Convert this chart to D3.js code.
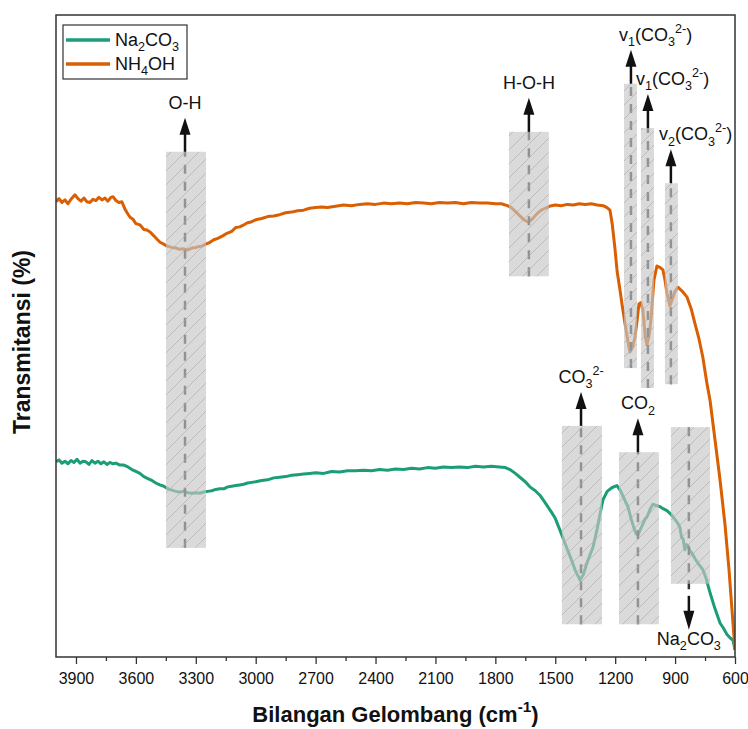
<!DOCTYPE html>
<html>
<head>
<meta charset="utf-8">
<script src="https://cdn.jsdelivr.net/npm/d3@7"></script>
<style>
  body { margin: 0; background: #fff; }
  svg { font-family: "Liberation Sans", Arial, sans-serif; }
</style>
</head>
<body>
<svg width="748" height="729"></svg>
<script>
// x axis ticks (cm-1)
var xTicks = [3900, 3600, 3300, 3000, 2700, 2400, 2100, 1800, 1500, 1200, 900, 600];
var xMinor = [3750, 3450, 3150, 2850, 2550, 2250, 1950, 1650, 1350, 1050, 750];

// [wavenumber, transmittance]
var na2co3 = [
  [4000, 30.4], [3985, 30.7], [3970, 30.2], [3955, 30.5], [3940, 30.1], [3925, 30.6], [3910, 30.3],
  [3895, 30.8], [3880, 30.2], [3865, 30.5], [3850, 30.4], [3835, 30.0], [3820, 30.6], [3805, 30.2],
  [3790, 30.5], [3775, 30.1], [3760, 30.4], [3745, 30.0], [3730, 30.3], [3715, 30.1], [3700, 30.2],
  [3680, 29.9], [3660, 29.9], [3640, 29.6], [3620, 29.2], [3600, 28.9], [3580, 28.6], [3560, 28.1],
  [3540, 27.8], [3520, 27.5], [3500, 27.1], [3480, 26.8], [3460, 26.6], [3440, 26.2], [3420, 26.0],
  [3400, 25.8], [3380, 25.7], [3360, 25.8], [3340, 25.6], [3320, 25.5], [3300, 25.6], [3280, 25.5],
  [3260, 25.7], [3240, 25.8], [3220, 25.9], [3200, 26.1], [3180, 26.2], [3160, 26.2], [3140, 26.5],
  [3120, 26.6], [3100, 26.7], [3080, 26.8], [3060, 26.9], [3040, 27.1], [3020, 27.2], [3000, 27.3],
  [2970, 27.5], [2940, 27.6], [2910, 27.9], [2880, 28.0], [2850, 28.1], [2820, 28.3], [2790, 28.4],
  [2760, 28.5], [2730, 28.6], [2700, 28.7], [2660, 28.6], [2620, 28.9], [2580, 28.8], [2540, 29.0],
  [2500, 29.0], [2460, 29.1], [2420, 29.0], [2380, 29.2], [2340, 29.1], [2300, 29.3], [2260, 29.2],
  [2220, 29.4], [2180, 29.3], [2140, 29.5], [2100, 29.4], [2060, 29.6], [2020, 29.5], [1980, 29.6],
  [1940, 29.5], [1900, 29.7], [1860, 29.6], [1820, 29.7], [1780, 29.6], [1750, 29.5], [1727, 29.2],
  [1700, 28.6], [1677, 28.0], [1650, 27.3], [1627, 26.5], [1600, 25.9], [1577, 25.2], [1550, 24.0],
  [1520, 22.6], [1500, 21.6], [1477, 19.8], [1450, 17.6], [1420, 15.2], [1400, 13.5], [1376, 12.0],
  [1360, 12.8], [1345, 14.3], [1330, 15.6], [1311, 17.1], [1290, 20.0], [1275, 22.4], [1261, 24.5],
  [1240, 25.8], [1215, 26.4], [1191, 26.7], [1175, 26.0], [1160, 25.0], [1150, 24.3], [1136, 23.4],
  [1120, 21.5], [1105, 20.0], [1095, 19.2], [1086, 19.0], [1075, 19.8], [1060, 20.8], [1050, 21.5],
  [1041, 21.8], [1025, 23.0], [1011, 23.8], [995, 23.6], [975, 23.4], [960, 23.1], [941, 22.8],
  [920, 22.2], [900, 21.4], [886, 20.8], [876, 20.2], [868, 18.7], [860, 18.4], [851, 16.7],
  [843, 17.5], [835, 17.3], [825, 16.5], [816, 16.2], [800, 15.3], [780, 14.4], [761, 13.6],
  [745, 12.3], [725, 10.0], [700, 7.5], [675, 5.3], [660, 4.6], [640, 3.5], [625, 3.0], [610, 2.6],
  [600, 1.1]
];

var nh4oh = [
  [4000, 70.9], [3985, 71.4], [3970, 70.8], [3955, 71.2], [3940, 70.6], [3925, 71.3], [3905, 72.0],
  [3890, 71.4], [3875, 71.0], [3860, 71.5], [3845, 70.9], [3830, 70.8], [3815, 71.3], [3800, 71.1],
  [3785, 71.6], [3770, 71.2], [3755, 71.5], [3740, 71.0], [3725, 71.6], [3715, 71.7], [3700, 71.1],
  [3685, 70.8], [3670, 70.9], [3655, 69.8], [3640, 69.0], [3629, 68.5], [3615, 68.2], [3600, 67.5],
  [3579, 67.3], [3560, 66.6], [3545, 66.5], [3529, 66.2], [3510, 65.6], [3495, 65.1], [3479, 64.6],
  [3460, 64.3], [3444, 64.0], [3420, 63.8], [3400, 63.7], [3380, 63.5], [3364, 63.6], [3340, 63.4],
  [3320, 63.7], [3300, 63.8], [3289, 63.9], [3270, 64.0], [3250, 64.3], [3229, 64.6], [3210, 65.0],
  [3190, 65.2], [3165, 65.6], [3144, 66.0], [3120, 66.3], [3100, 66.9], [3080, 67.0], [3060, 67.3],
  [3044, 67.6], [3020, 67.8], [3000, 68.1], [2970, 68.3], [2940, 68.6], [2910, 68.7], [2880, 68.9],
  [2850, 69.2], [2820, 69.3], [2790, 69.5], [2760, 69.6], [2730, 69.9], [2700, 70.0], [2670, 70.1],
  [2640, 70.0], [2600, 70.2], [2560, 70.4], [2520, 70.3], [2480, 70.5], [2440, 70.6], [2400, 70.5],
  [2360, 70.7], [2320, 70.6], [2280, 70.7], [2240, 70.6], [2200, 70.8], [2160, 70.7], [2120, 70.6],
  [2080, 70.8], [2040, 70.7], [2000, 70.8], [1960, 70.6], [1920, 70.8], [1880, 70.7], [1840, 70.7],
  [1800, 70.6], [1770, 70.6], [1740, 70.3], [1720, 70.0], [1700, 69.4], [1680, 68.8], [1660, 68.2],
  [1640, 67.8], [1625, 67.9], [1610, 68.4], [1590, 69.1], [1570, 69.6], [1550, 69.9], [1530, 70.2],
  [1500, 70.4], [1470, 70.3], [1440, 70.5], [1410, 70.4], [1380, 70.6], [1350, 70.5], [1320, 70.6],
  [1290, 70.4], [1260, 70.3], [1241, 70.0], [1226, 69.6], [1215, 67.5], [1201, 63.6], [1190, 60.0],
  [1176, 57.2], [1165, 54.8], [1151, 52.0], [1138, 49.5], [1126, 47.5], [1113, 48.3], [1101, 49.8],
  [1090, 52.5], [1081, 55.0], [1071, 55.2], [1061, 54.0], [1050, 50.0], [1041, 48.6], [1031, 50.0],
  [1021, 52.5], [1006, 58.7], [991, 60.9], [976, 60.7], [961, 60.3], [951, 58.8], [941, 56.7],
  [926, 54.7], [913, 55.8], [901, 56.9], [886, 57.6], [865, 57.0], [841, 56.1], [820, 54.3],
  [801, 52.0], [780, 49.5], [761, 46.7], [740, 42.5], [725, 40.0], [700, 33.8], [675, 27.6],
  [650, 20.6], [630, 13.6], [615, 7.3], [600, 1.1]
];

var seriesNames = [[["Na"], ["2", "sub"], ["CO"], ["3", "sub"]], [["NH"], ["4", "sub"], ["OH"]]];
var seriesColors = ["#1b9e77", "#d95f02"];

// shaded bands: wavenumber range, marker line, transmittance range, label
var bands = [
  { lo: 3249, hi: 3449, at: 3354, top: 78.7, bottom: 17.0, dir: "up", label: [["O-H"]] },
  { lo: 1532, hi: 1732, at: 1632, top: 81.8, bottom: 59.3, dir: "up", label: [["H-O-H"]] },
  { lo: 1091, hi: 1156, at: 1121, top: 89.3, bottom: 45.0, dir: "up",
    label: [["v"], ["1", "sub"], ["(CO"], ["3", "sub"], ["2-", "sup"], [")"]] },
  { lo: 1006, hi: 1071, at: 1036, top: 82.4, bottom: 41.9, dir: "up",
    label: [["v"], ["1", "sub"], ["(CO"], ["3", "sub"], ["2-", "sup"], [")"]] },
  { lo: 886, hi: 951, at: 921, top: 73.8, bottom: 42.5, dir: "up",
    label: [["v"], ["2", "sub"], ["(CO"], ["3", "sub"], ["2-", "sup"], [")"]] },
  { lo: 1266, hi: 1467, at: 1371, top: 36.0, bottom: 5.1, dir: "up",
    label: [["CO"], ["3", "sub"], ["2-", "sup"]] },
  { lo: 981, hi: 1181, at: 1086, top: 31.9, bottom: 5.1, dir: "up",
    label: [["CO"], ["2", "sub"]] },
  { lo: 725, hi: 921, at: 831, top: 35.8, bottom: 11.4, dir: "down",
    label: [["Na"], ["2", "sub"], ["CO"], ["3", "sub"]] }
];

var margin = { top: 15, right: 13, bottom: 72, left: 56 };
var width = 748 - margin.left - margin.right;
var height = 729 - margin.top - margin.bottom;

var svg = d3.select("svg");
var defs = svg.append("defs");
defs.append("clipPath").attr("id", "plotClip")
  .append("rect").attr("width", width).attr("height", height);

var hatch = defs.append("pattern")
  .attr("id", "hatch")
  .attr("patternUnits", "userSpaceOnUse")
  .attr("width", 14).attr("height", 14);
hatch.append("path")
  .attr("d", "M0,14 L14,0 M-3,3 L3,-3 M11,17 L17,11")
  .attr("stroke", "#a8a8a8")
  .attr("stroke-width", 0.6);

var g = svg.append("g")
  .attr("transform", "translate(" + margin.left + "," + margin.top + ")");

var x = d3.scaleLinear().domain([4000, 600]).range([0, width]);
var y = d3.scaleLinear().domain([0, 100]).range([height, 0]);

function rich(text, parts, size) {
  var shift = 0;
  parts.forEach(function (p) {
    var target = p[1] === "sub" ? size * 0.3 : p[1] === "sup" ? -size * 0.45 : 0;
    text.append("tspan")
      .attr("dy", target - shift)
      .attr("font-size", p[1] ? size * 0.7 : size)
      .text(p[0]);
    shift = target;
  });
}

var plot = g.append("g").attr("clip-path", "url(#plotClip)");

var line = d3.line()
  .x(function (d) { return x(d[0]); })
  .y(function (d) { return y(d[1]); });

plot.selectAll(".series")
  .data([na2co3, nh4oh])
  .enter()
  .append("path")
  .attr("class", "series")
  .attr("fill", "none")
  .attr("stroke", function (d, i) { return seriesColors[i]; })
  .attr("stroke-width", 3)
  .attr("stroke-linejoin", "round")
  .attr("d", line);

// dashed marker lines, under the shading
plot.selectAll(".marker")
  .data(bands)
  .enter()
  .append("line")
  .attr("class", "marker")
  .attr("x1", function (d) { return x(d.at); })
  .attr("x2", function (d) { return x(d.at); })
  .attr("y1", function (d) { return d.dir === "up" ? y(d.bottom) : y(d.top); })
  .attr("y2", function (d) { return d.dir === "up" ? y(d.top) : y(d.bottom) + 12; })
  .attr("stroke", "#333")
  .attr("stroke-width", 2.5)
  .attr("stroke-dasharray", "9,8");

var shade = plot.selectAll(".band")
  .data(bands)
  .enter()
  .append("g")
  .attr("class", "band");
shade.append("rect")
  .attr("x", function (d) { return x(d.hi); })
  .attr("y", function (d) { return y(d.top); })
  .attr("width", function (d) { return x(d.lo) - x(d.hi); })
  .attr("height", function (d) { return y(d.bottom) - y(d.top); })
  .attr("fill", "#c6c6c6")
  .attr("fill-opacity", 0.65);
shade.append("rect")
  .attr("x", function (d) { return x(d.hi); })
  .attr("y", function (d) { return y(d.top); })
  .attr("width", function (d) { return x(d.lo) - x(d.hi); })
  .attr("height", function (d) { return y(d.bottom) - y(d.top); })
  .attr("fill", "url(#hatch)");

// arrows and labels
var ann = plot.selectAll(".ann")
  .data(bands)
  .enter()
  .append("g")
  .attr("class", "ann")
  .attr("transform", function (d) { return "translate(" + x(d.at) + ",0)"; });

ann.append("line")
  .attr("y1", function (d) { return d.dir === "up" ? y(d.top) : y(d.bottom) + 12; })
  .attr("y2", function (d) { return d.dir === "up" ? y(d.top) - 18 : y(d.bottom) + 28; })
  .attr("stroke", "#111")
  .attr("stroke-width", 2.5);

ann.append("path")
  .attr("fill", "#111")
  .attr("d", function (d) {
    if (d.dir === "up") {
      var t = y(d.top) - 34;
      return "M0," + t + "L-5.5," + (t + 17) + "L5.5," + (t + 17) + "Z";
    }
    var b = y(d.bottom) + 46;
    return "M0," + b + "L-5.5," + (b - 19) + "L5.5," + (b - 19) + "Z";
  });

ann.append("text")
  .attr("fill", "#111")
  .attr("font-size", 18)
  .attr("text-anchor", function (d) { return d.label[0][0] === "v" ? "start" : "middle"; })
  .attr("x", function (d) { return d.label[0][0] === "v" ? -12 : 0; })
  .attr("y", function (d) { return d.dir === "up" ? y(d.top) - 43 : y(d.bottom) + 61; })
  .each(function (d) { rich(d3.select(this), d.label, 18); });

// frame
g.append("rect")
  .attr("width", width)
  .attr("height", height)
  .attr("fill", "none")
  .attr("stroke", "#333")
  .attr("stroke-width", 1.5);

// x axis
var xAxis = g.append("g")
  .attr("transform", "translate(0," + height + ")")
  .call(d3.axisBottom(x).tickValues(xTicks).tickSize(7).tickPadding(9).tickFormat(d3.format("d")));
xAxis.select(".domain").remove();
xAxis.selectAll("line").attr("stroke", "#333").attr("stroke-width", 1.3);
xAxis.selectAll("text")
  .attr("fill", "#111")
  .style("font-size", "16px")
  .style("font-family", "Liberation Sans, Arial, sans-serif");

var xAxisMinor = g.append("g")
  .attr("transform", "translate(0," + height + ")")
  .call(d3.axisBottom(x).tickValues(xMinor).tickSize(4).tickFormat(""));
xAxisMinor.select(".domain").remove();
xAxisMinor.selectAll("line").attr("stroke", "#333").attr("stroke-width", 1.3);

// axis titles
var xTitle = svg.append("text")
  .attr("x", margin.left + width / 2)
  .attr("y", 722)
  .attr("text-anchor", "middle")
  .attr("font-weight", "bold")
  .attr("fill", "#111");
rich(xTitle, [["Bilangan Gelombang (cm"], ["-1", "sup"], [")"]], 22);

svg.append("text")
  .attr("transform", "translate(30,342) rotate(-90)")
  .attr("text-anchor", "middle")
  .attr("font-weight", "bold")
  .attr("font-size", 23)
  .attr("fill", "#111")
  .text("Transmitansi (%)");

// legend
var legend = g.append("g").attr("transform", "translate(7,10)");
legend.append("rect")
  .attr("width", 124)
  .attr("height", 54)
  .attr("fill", "#fff")
  .attr("stroke", "#333")
  .attr("stroke-width", 1.2);
var item = legend.selectAll(".item")
  .data(seriesNames)
  .enter()
  .append("g")
  .attr("class", "item")
  .attr("transform", function (d, i) { return "translate(0," + (15 + i * 24) + ")"; });
item.append("line")
  .attr("x1", 3).attr("x2", 47)
  .attr("stroke", function (d, i) { return seriesColors[i]; })
  .attr("stroke-width", 3.5);
item.append("text")
  .attr("x", 52)
  .attr("y", 6)
  .attr("fill", "#111")
  .attr("font-size", 18)
  .each(function (d) { rich(d3.select(this), d, 18); });
</script>
</body>
</html>
